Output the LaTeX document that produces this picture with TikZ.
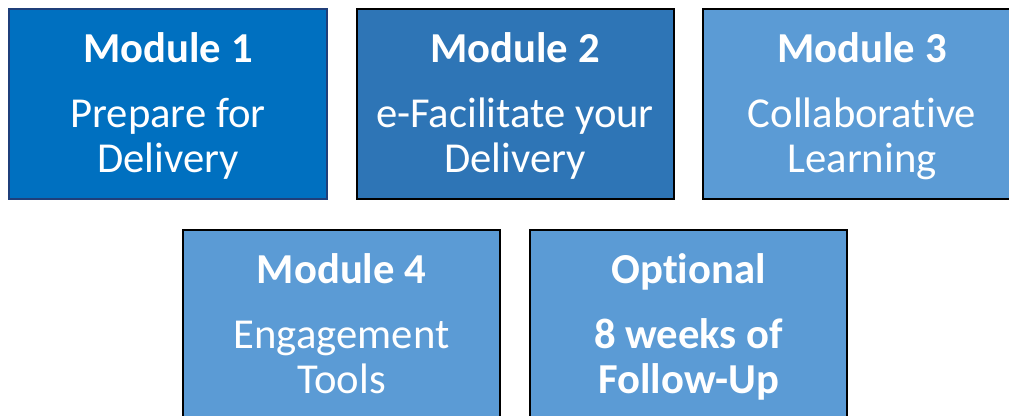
\documentclass[tikz,border=0pt]{standalone}
\usepackage{fontspec}
\setmainfont[Ligatures={NoCommon}]{Carlito}
\definecolor{bOne}{HTML}{0070C0}
\definecolor{bOneLine}{HTML}{1F3F7A}
\definecolor{bTwo}{HTML}{2E75B6}
\definecolor{bLight}{HTML}{5B9BD5}
\begin{document}
\begin{tikzpicture}[x=0.75pt,y=-0.75pt,
  box/.style={draw=black,line width=1.6pt},
  txt/.style={anchor=base,text=white,font=\fontsize{32}{38}\selectfont,inner sep=0pt},
  btxt/.style={txt,font=\fontsize{32}{38}\selectfont\bfseries}]
\useasboundingbox (0,0) rectangle (1009,415);
\begin{scope}
\clip (0,0) rectangle (1009,415);
\filldraw[box,fill=bOne,draw=bOneLine] (9,9) rectangle (327,199);
\filldraw[box,fill=bTwo] (357,9) rectangle (674,199);
\filldraw[box,fill=bLight] (703,9) rectangle (1021,199);
\filldraw[box,fill=bLight] (183,230) rectangle (500,430);
\filldraw[box,fill=bLight] (530,230) rectangle (847,430);
\end{scope}
\node[btxt] (m1) at (168,62) {Module 1};
\node[txt] (m1a) at (168,127) {Prepare for};
\node[txt] (m1b) at (168,172) {Delivery};
\node[btxt] (m2) at (515,62) {Module 2};
\node[txt] (m2a) at (515,127) {e-Facilitate your};
\node[txt] (m2b) at (515,172) {Delivery};
\node[btxt] (m3) at (862,62) {Module 3};
\node[txt] (m3a) at (862,127) {Collaborative};
\node[txt] (m3b) at (862,172) {Learning};
\node[btxt] (m4) at (341.5,283) {Module 4};
\node[txt] (m4a) at (341.5,348) {Engagement};
\node[txt] (m4b) at (341.5,393) {Tools};
\node[btxt] (o) at (688.5,283) {Optional};
\node[btxt] (oa) at (688.5,348) {8 weeks of};
\node[btxt] (ob) at (688.5,393) {Follow-Up};
\end{tikzpicture}
\end{document}
